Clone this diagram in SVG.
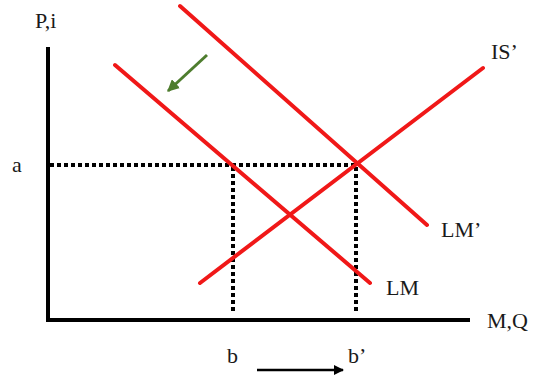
<svg xmlns="http://www.w3.org/2000/svg" width="538" height="378" viewBox="0 0 538 378">
<defs>
<style>
.lbl{font-family:"Liberation Serif","Times New Roman",serif;font-size:22px;fill:#1a1a1a}
.axis{stroke:#000;stroke-width:4;fill:none}
.curve{stroke:#f01818;stroke-width:4;stroke-linecap:round;fill:none}
.dash{stroke:#000;stroke-width:4;stroke-dasharray:4 3;fill:none}
</style>
<marker id="ahB" viewBox="0 0 10 10" refX="9" refY="5" markerWidth="4" markerHeight="4" orient="auto" markerUnits="strokeWidth"><path d="M0,0 L10,5 L0,10 z" fill="#000"/></marker>
<marker id="ahG" viewBox="0 0 10 10" refX="9" refY="5" markerWidth="4" markerHeight="4" orient="auto" markerUnits="strokeWidth"><path d="M0,0 L10,5 L0,10 z" fill="#4e7d2e"/></marker>
</defs>
<rect width="538" height="378" fill="#fff"/>
<g id="axes">
<path class="axis" d="M48,47 L48,320 L470,320"/>
</g>
<g id="connectors">
<line class="dash" x1="50" y1="165" x2="356" y2="165"/>
<line class="dash" x1="233" y1="167" x2="233" y2="312"/>
<line class="dash" x1="356" y1="167" x2="356" y2="312"/>
<line x1="207" y1="55" x2="168" y2="91" stroke="#4e7d2e" stroke-width="3" marker-end="url(#ahG)"/>
<line x1="257" y1="370" x2="343" y2="370" stroke="#000" stroke-width="2.5" marker-end="url(#ahB)"/>
</g>
<g id="LM"><line class="curve" x1="115" y1="65" x2="370" y2="283"/></g>
<g id="LMprime"><line class="curve" x1="180" y1="6" x2="427" y2="225"/></g>
<g id="ISprime"><line class="curve" x1="200" y1="283" x2="483" y2="68"/></g>
<g id="labels">
<text class="lbl" x="35" y="28">P,i</text>
<text class="lbl" x="12" y="172">a</text>
<text class="lbl" x="491" y="59">IS’</text>
<text class="lbl" x="441" y="237">LM’</text>
<text class="lbl" x="386" y="295">LM</text>
<text class="lbl" x="487" y="328">M,Q</text>
<text class="lbl" x="227" y="363">b</text>
<text class="lbl" x="348" y="363">b’</text>
</g>
</svg>
